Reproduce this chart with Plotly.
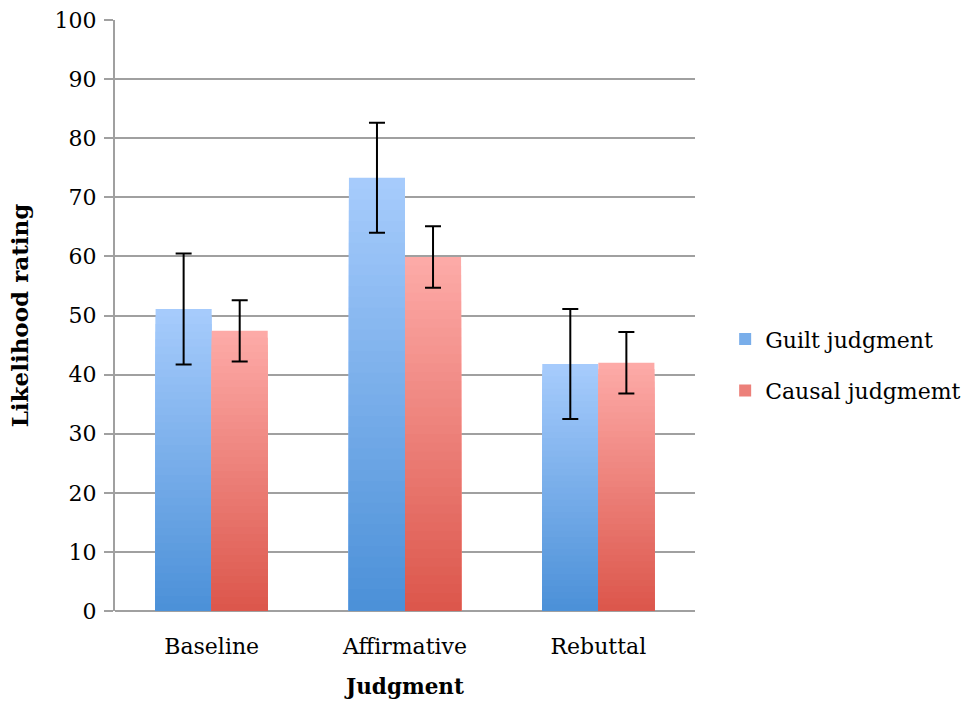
import plotly.graph_objects as go

categories = ["Baseline", "Affirmative", "Rebuttal"]
guilt = [51.1, 73.3, 41.8]
guilt_err = [9.4, 9.3, 9.3]
causal = [47.4, 59.9, 42.0]
causal_err = [5.2, 5.2, 5.2]
series_names = ["Guilt judgment", "Causal judgmemt"]

FONT = "DejaVu Serif"
K = 40

def lerp(c1, c2, t):
    return "rgb(%d,%d,%d)" % tuple(round(a + (b - a) * t) for a, b in zip(c1, c2))

series = [
    (series_names[0], guilt, guilt_err, (166, 203, 252), (76, 145, 216), "g"),
    (series_names[1], causal, causal_err, (253, 170, 167), (220, 87, 76), "c"),
]

fig = go.Figure()
for name, vals, errs, top, bot, grp in series:
    # gradient: overlapping bars from light (full height) to dark (short)
    for k in range(K):
        frac = (K - k) / K
        fig.add_trace(go.Bar(
            x=categories, y=[v * frac for v in vals],
            offsetgroup=grp, legendgroup=grp, showlegend=False,
            marker=dict(color=lerp(top, bot, k / (K - 1)), line=dict(width=0)),
            hoverinfo="skip",
        ))
    # error bars on a transparent full bar
    fig.add_trace(go.Bar(
        x=categories, y=vals, offsetgroup=grp, legendgroup=grp, showlegend=False,
        marker=dict(color="rgba(0,0,0,0)", line=dict(width=0)),
        error_y=dict(type="data", array=errs, visible=True, color="black",
                     thickness=2, width=8),
    ))
    # legend entry
    fig.add_trace(go.Bar(
        x=[None], y=[None], name=name, offsetgroup=grp, legendgroup=grp,
        marker=dict(color=lerp(top, bot, 0.5), line=dict(width=0)),
    ))

fig.update_layout(
    width=967, height=704,
    margin=dict(l=115, r=272, t=20, b=93, autoexpand=False),
    paper_bgcolor="white", plot_bgcolor="white",
    barmode="group", bargap=0.42, bargroupgap=0,
    font=dict(family=FONT, size=22, color="black"),
    showlegend=True,
    legend=dict(x=1.052, y=0.416, yanchor="middle", xanchor="left",
                font=dict(family=FONT, size=22), traceorder="grouped",
                tracegroupgap=20, itemwidth=30, borderwidth=0),
    xaxis=dict(
        title=dict(text="<b>Judgment</b>", font=dict(family=FONT, size=21.5), standoff=20),
        showgrid=False, showline=False, ticks="", tickfont=dict(size=22),
        automargin=False, ticklabelstandoff=20,
    ),
    yaxis=dict(
        title=dict(text="<b>Likelihood rating</b>", font=dict(family=FONT, size=23), standoff=20),
        range=[0, 100], dtick=10, tick0=0,
        showgrid=True, gridcolor="#a0a0a0", gridwidth=2,
        showline=True, linecolor="#a0a0a0", linewidth=2,
        ticks="outside", ticklen=9, tickcolor="#a0a0a0", tickwidth=2,
        zeroline=True, zerolinecolor="#a0a0a0", zerolinewidth=2,
        tickfont=dict(size=22), automargin=False, ticklabelstandoff=3,
    ),
)

fig.write_html("out.html", config={"displayModeBar": False},
               post_script="document.body.style.margin='0px';document.body.style.overflow='hidden';")
